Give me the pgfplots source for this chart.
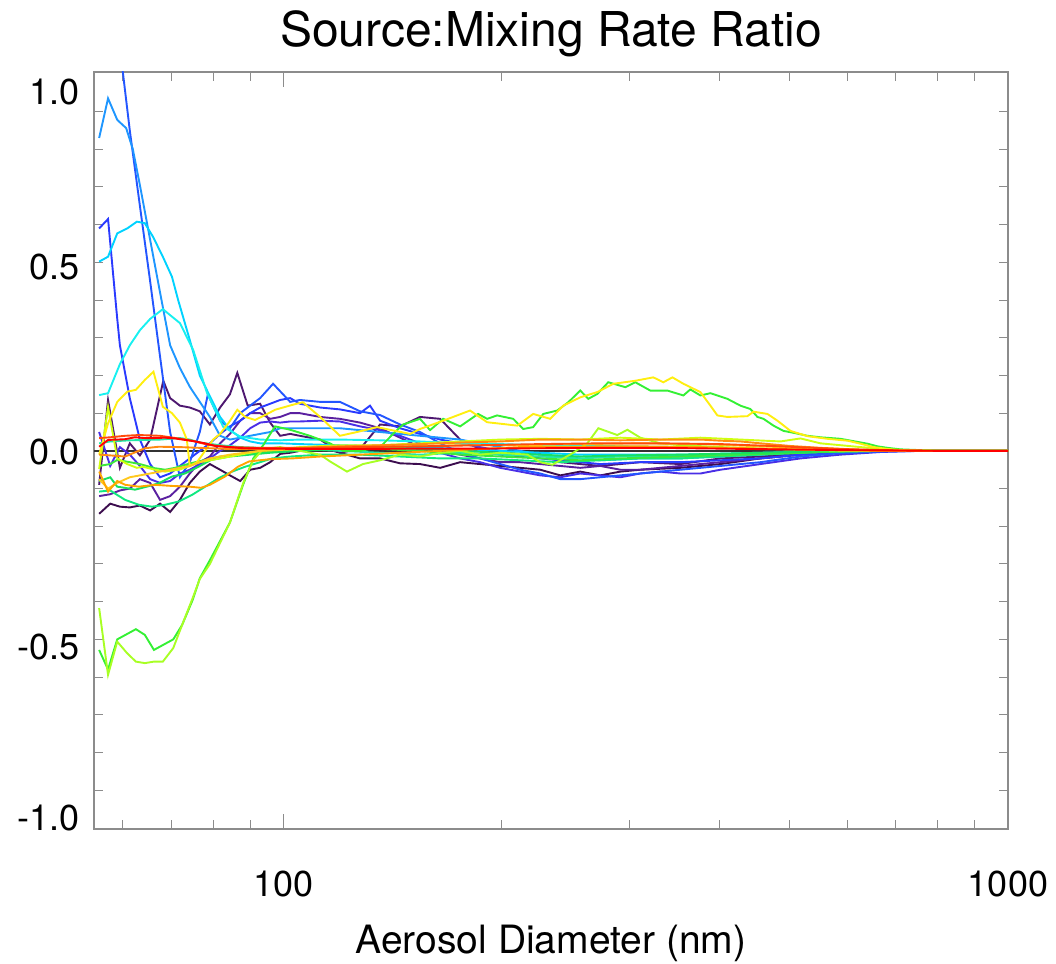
\documentclass[border=0pt]{standalone}
\usepackage{pgfplots}
\pgfplotsset{compat=1.18}
\usepackage{fontspec}
\setmainfont{TeX Gyre Heros}
\definecolor{c01}{HTML}{3C0D4E}
\definecolor{c02}{HTML}{4E1870}
\definecolor{c03}{HTML}{5A20A0}
\definecolor{c04}{HTML}{4A2EE6}
\definecolor{c05}{HTML}{2A3AFF}
\definecolor{c06}{HTML}{2356FF}
\definecolor{c07}{HTML}{1E96FF}
\definecolor{c08}{HTML}{00D2FF}
\definecolor{c09}{HTML}{18F0F0}
\definecolor{c10}{HTML}{20E8A8}
\definecolor{c11}{HTML}{10E880}
\definecolor{c12}{HTML}{3CE83C}
\definecolor{c13}{HTML}{18E060}
\definecolor{c14}{HTML}{34F034}
\definecolor{c15}{HTML}{A8FF24}
\definecolor{c16}{HTML}{D0FF10}
\definecolor{c17}{HTML}{FFEE10}
\definecolor{c18}{HTML}{FFC81E}
\definecolor{c19}{HTML}{FFA500}
\definecolor{c20}{HTML}{FF8A10}
\definecolor{c21}{HTML}{FF4A0A}
\definecolor{c22}{HTML}{FF0000}
\begin{document}
\begin{tikzpicture}
\useasboundingbox (-47pt,-67.5pt) rectangle (481pt,414.5pt);
\begin{axis}[
  at={(0pt,0pt)}, anchor=south west,
  scale only axis, width=457pt, height=378.5pt,
  xmode=log, xmin=54.8, xmax=1000, ymin=-1.003, ymax=1.005,
  xtick={60,70,80,90,200,300,400,500,600,700,800,900}, xticklabel=\empty,
  extra x ticks={100,1000}, extra x tick labels={},
  extra x tick style={major tick length=7.5pt},
  ytick={-0.9,-0.8,-0.7,-0.6,-0.5,-0.4,-0.3,-0.2,-0.1,0,0.1,0.2,0.3,0.4,0.5,0.6,0.7,0.8,0.9},
  yticklabel=\empty,
  major tick length=4.4pt,
  axis line style={draw=black!45, line width=0.6pt},
  every tick/.style={draw=black!45, line width=0.5pt},
  every axis plot/.append style={line width=0.95pt},
  clip=true,
]
\addplot[color=black!80, line width=1pt] coordinates {(54.8,0) (1000,0)};
% dark purple 1
\addplot[c01] coordinates {(55.7,-0.167)(57.7,-0.14)(59.5,-0.148)(61.4,-0.15)(63.4,-0.145)(65.5,-0.158)(67.6,-0.14)(69.8,-0.162)(72.0,-0.13)(74.3,-0.085)(76.7,-0.055)(79.2,-0.035)(81.8,-0.05)(84.4,-0.065)(87.2,-0.08)(90.0,-0.05)(92.9,-0.045)(95.9,-0.03)(99.0,-0.008)(102.2,-0.005)(105.4,0.0)(112.4,0.01)(119.7,-0.005)(127.6,-0.02)(136.0,-0.02)(144.9,-0.033)(154.4,-0.035)(164.6,-0.045)(175.4,-0.03)(186.9,-0.035)(199.2,-0.04)(212.3,-0.045)(226.2,-0.05)(241.1,-0.065)(256.9,-0.055)(273.8,-0.065)(291.8,-0.055)(310.9,-0.05)(353.1,-0.045)(401.0,-0.035)(455.4,-0.02)(517.2,-0.01)(587.3,-0.004)(667.0,0)(1000,0)};
% dark purple 2
\addplot[c02] coordinates {(55.7,-0.09)(57.3,0.135)(59.5,-0.045)(61.4,0.02)(63.4,-0.012)(65.5,0.03)(68.3,0.186)(69.8,0.14)(72.0,0.12)(74.3,0.115)(76.7,0.105)(79.2,0.07)(81.8,0.115)(84.4,0.15)(86.4,0.207)(89.3,0.12)(92.9,0.125)(95.9,0.075)(99.0,0.04)(102.2,0.045)(105.4,0.04)(112.4,0.03)(119.7,-0.005)(127.6,0.005)(136.0,0.07)(144.9,0.065)(154.4,0.09)(164.6,0.085)(175.4,0.03)(186.9,0.005)(199.2,-0.01)(212.3,-0.015)(226.2,-0.005)(241.1,-0.03)(256.9,-0.035)(273.8,-0.04)(310.9,-0.03)(353.1,-0.035)(401.0,-0.02)(455.4,-0.015)(517.2,-0.008)(587.3,-0.003)(667.0,0)(1000,0)};
% purple
\addplot[c03] coordinates {(55.7,-0.12)(57.7,-0.115)(59.5,-0.105)(61.4,-0.1)(63.4,-0.075)(65.5,-0.085)(67.6,-0.13)(69.8,-0.12)(72.0,-0.095)(74.3,-0.06)(76.7,-0.03)(79.2,-0.015)(81.8,0.02)(84.4,0.045)(87.2,0.08)(90.0,0.1)(92.9,0.1)(95.9,0.085)(99.0,0.09)(102.2,0.1)(105.4,0.1)(112.4,0.09)(119.7,0.085)(127.6,0.075)(136.0,0.06)(144.9,0.035)(154.4,0.01)(164.6,0.0)(175.4,-0.01)(186.9,-0.02)(199.2,-0.03)(212.3,-0.03)(226.2,-0.035)(241.1,-0.04)(256.9,-0.045)(273.8,-0.04)(291.8,-0.05)(310.9,-0.05)(353.1,-0.04)(401.0,-0.03)(455.4,-0.02)(517.2,-0.01)(587.3,-0.004)(667.0,0)(1000,0)};
% violet
\addplot[c04] coordinates {(55.7,0.05)(57.7,-0.04)(59.5,0.01)(61.4,-0.01)(63.4,-0.04)(65.5,-0.075)(67.6,-0.085)(69.8,-0.08)(72.0,-0.06)(74.3,-0.05)(76.7,-0.035)(79.2,-0.02)(81.8,0.0)(84.4,0.015)(87.2,0.035)(90.0,0.06)(92.9,0.075)(95.9,0.078)(99.0,0.075)(102.2,0.078)(105.4,0.078)(112.4,0.08)(119.7,0.078)(127.6,0.065)(136.0,0.055)(144.9,0.04)(154.4,0.02)(164.6,-0.005)(175.4,-0.02)(186.9,-0.03)(199.2,-0.045)(212.3,-0.055)(226.2,-0.065)(241.1,-0.07)(256.9,-0.06)(273.8,-0.065)(291.8,-0.07)(310.9,-0.06)(331.3,-0.055)(353.1,-0.06)(376.3,-0.06)(401.0,-0.05)(455.4,-0.035)(517.2,-0.02)(587.3,-0.01)(667.0,-0.003)(757.5,0)(1000,0)};
% blue (0.6 start)
\addplot[c05] coordinates {(55.7,0.59)(57.3,0.615)(59.0,0.35)(59.5,0.28)(61.4,0.14)(63.4,0.03)(65.5,-0.035)(67.6,-0.07)(69.8,-0.06)(72.0,-0.04)(74.3,-0.02)(76.7,0.0)(79.2,0.02)(81.8,0.045)(84.4,0.065)(87.2,0.08)(90.0,0.1)(92.9,0.115)(95.9,0.125)(99.0,0.135)(102.2,0.14)(105.4,0.125)(112.4,0.115)(119.7,0.11)(127.6,0.1)(131.7,0.12)(136.0,0.08)(144.9,0.06)(154.4,0.045)(164.6,0.03)(175.4,0.02)(186.9,0.01)(199.2,0.0)(212.3,-0.01)(226.2,-0.02)(241.1,-0.025)(256.9,-0.03)(273.8,-0.035)(310.9,-0.03)(353.1,-0.03)(401.0,-0.025)(455.4,-0.02)(517.2,-0.01)(587.3,-0.005)(667.0,0)(1000,0)};
% royal blue (off top)
\addplot[c06] coordinates {(55.7,1.6)(57.7,1.3)(59.5,1.07)(61.4,0.85)(63.4,0.65)(65.5,0.45)(67.6,0.25)(69.8,0.05)(72.0,-0.07)(74.3,-0.03)(76.7,0.05)(78.7,0.15)(81.8,0.08)(84.4,0.06)(87.2,0.1)(90.0,0.12)(92.9,0.14)(96.8,0.178)(102.2,0.13)(105.4,0.135)(112.4,0.13)(119.7,0.13)(127.6,0.105)(136.0,0.095)(144.9,0.07)(154.4,0.05)(164.6,0.02)(175.4,-0.005)(186.9,-0.02)(199.2,-0.035)(212.3,-0.05)(226.2,-0.06)(241.1,-0.075)(256.9,-0.075)(273.8,-0.07)(291.8,-0.065)(310.9,-0.06)(353.1,-0.05)(401.0,-0.04)(455.4,-0.03)(517.2,-0.015)(587.3,-0.006)(667.0,-0.002)(757.5,0)(1000,0)};
% dodger blue (0.94 peak)
\addplot[c07] coordinates {(55.7,0.83)(57.3,0.935)(59.0,0.878)(60.7,0.856)(62.0,0.80)(63.4,0.705)(65.5,0.56)(67.6,0.42)(69.8,0.28)(72.0,0.22)(74.3,0.17)(76.7,0.13)(79.2,0.09)(81.8,0.04)(84.4,0.03)(87.2,0.035)(90.0,0.04)(92.9,0.045)(95.9,0.05)(99.0,0.06)(105.4,0.06)(112.4,0.06)(119.7,0.06)(127.6,0.055)(136.0,0.05)(144.9,0.045)(154.4,0.04)(164.6,0.035)(175.4,0.03)(186.9,0.02)(199.2,0.01)(212.3,0.0)(226.2,-0.01)(241.1,-0.015)(256.9,-0.02)(273.8,-0.025)(310.9,-0.02)(353.1,-0.02)(401.0,-0.015)(455.4,-0.01)(517.2,-0.005)(587.3,0)(1000,0)};
% sky blue (0.61 peak)
\addplot[c08] coordinates {(55.7,0.502)(57.3,0.515)(59.0,0.577)(60.9,0.59)(62.8,0.608)(64.4,0.604)(66.1,0.568)(68.2,0.515)(70.2,0.462)(71.6,0.40)(74.3,0.294)(76.7,0.2)(78.5,0.16)(81.8,0.09)(84.4,0.056)(87.2,0.035)(90.0,0.025)(92.9,0.02)(99.0,0.02)(105.4,0.018)(119.7,0.015)(136.0,0.012)(154.4,0.01)(175.4,0.005)(199.2,0.0)(226.2,-0.005)(256.9,-0.01)(291.8,-0.01)(353.1,-0.01)(455.4,-0.005)(587.3,0)(1000,0)};
% cyan (0.37 peak)
\addplot[c09] coordinates {(55.7,0.148)(57.3,0.153)(59.5,0.23)(61.4,0.28)(63.4,0.32)(65.5,0.35)(68.2,0.376)(69.8,0.36)(72.0,0.339)(75.1,0.268)(78.5,0.153)(82.6,0.064)(87.2,0.038)(92.9,0.03)(99.0,0.028)(105.4,0.03)(119.7,0.03)(136.0,0.028)(154.4,0.025)(175.4,0.02)(199.2,0.018)(226.2,0.015)(256.9,0.015)(291.8,0.012)(353.1,0.01)(455.4,0.005)(587.3,0.002)(667.0,0)(1000,0)};
% aquamarine
\addplot[c10] coordinates {(55.7,0.02)(57.7,0.025)(61.4,0.028)(67.6,0.03)(72.0,0.034)(74.3,0.03)(76.7,0.022)(81.8,0.015)(87.2,0.01)(92.9,0.008)(105.4,0.005)(119.7,0.0)(136.0,-0.005)(154.4,-0.01)(175.4,-0.005)(199.2,-0.01)(226.2,-0.015)(256.9,-0.02)(291.8,-0.015)(353.1,-0.012)(455.4,-0.006)(587.3,-0.002)(667.0,0)(1000,0)};
% spring green (lowest)
\addplot[c11] coordinates {(55.7,-0.108)(57.7,-0.105)(59.0,-0.117)(60.5,-0.13)(63.2,-0.143)(65.9,-0.148)(68.7,-0.143)(71.8,-0.134)(74.8,-0.117)(78.0,-0.095)(81.5,-0.072)(85.0,-0.055)(88.6,-0.042)(92.9,-0.03)(96.5,-0.02)(102.2,-0.015)(112.4,-0.01)(127.6,-0.01)(144.9,-0.015)(164.6,-0.02)(186.9,-0.02)(212.3,-0.025)(241.1,-0.03)(273.8,-0.025)(310.9,-0.02)(353.1,-0.02)(401.0,-0.015)(455.4,-0.01)(517.2,-0.005)(587.3,0)(1000,0)};
% green 1
\addplot[c12] coordinates {(55.7,-0.04)(57.7,-0.035)(59.0,-0.024)(61.4,-0.03)(63.4,-0.035)(66.5,-0.046)(68.7,-0.05)(70.9,-0.045)(73.2,-0.037)(75.6,-0.03)(78.0,-0.024)(81.8,-0.015)(87.2,-0.01)(92.9,-0.005)(99.0,0.0)(105.4,0.005)(119.7,0.008)(136.0,0.005)(154.4,0.0)(175.4,-0.01)(199.2,-0.015)(226.2,-0.02)(256.9,-0.025)(291.8,-0.02)(353.1,-0.015)(455.4,-0.008)(587.3,-0.002)(667.0,0)(1000,0)};
% green 2
\addplot[c13] coordinates {(55.7,-0.08)(57.7,-0.07)(59.0,-0.095)(60.5,-0.098)(62.4,-0.103)(64.8,-0.095)(67.3,-0.086)(70.2,-0.068)(73.2,-0.06)(76.4,-0.042)(79.5,-0.024)(84.4,-0.015)(90.0,-0.01)(95.9,-0.005)(105.4,0.0)(119.7,0.005)(136.0,0.01)(154.4,0.005)(175.4,0.0)(199.2,-0.005)(226.2,-0.01)(256.9,-0.015)(291.8,-0.012)(353.1,-0.01)(455.4,-0.005)(587.3,0)(1000,0)};
% green big negative then hump
\addplot[c14] coordinates {(55.7,-0.528)(57.3,-0.58)(59.0,-0.5)(62.6,-0.473)(64.4,-0.488)(66.3,-0.528)(70.5,-0.5)(72.5,-0.462)(75.0,-0.395)(76.7,-0.338)(79.2,-0.29)(84.4,-0.19)(88.0,-0.09)(90.9,-0.02)(93.8,0.015)(97.4,0.065)(102.2,0.056)(108.8,0.04)(116.0,0.02)(120.9,0.0)(127.6,0.0)(136.0,0.01)(142.6,0.05)(146.3,0.07)(154.4,0.085)(159.4,0.055)(166.2,0.085)(175.4,0.065)(185.7,0.098)(191.1,0.085)(197.3,0.094)(207.6,0.085)(214.3,0.058)(221.2,0.063)(228.4,0.098)(238.8,0.107)(247.3,0.129)(256.9,0.16)(263.5,0.138)(271.2,0.151)(280.8,0.182)(296.5,0.169)(306.0,0.182)(320.9,0.16)(338.8,0.16)(356.5,0.147)(364.5,0.163)(376.3,0.147)(388.5,0.153)(410.0,0.138)(427.3,0.12)(441.1,0.111)(451.1,0.09)(459.8,0.085)(474.6,0.067)(489.9,0.053)(505.8,0.048)(528.8,0.04)(551.1,0.036)(587.3,0.032)(640.0,0.019)(660.7,0.012)(682.0,0.008)(710.8,0.004)(807.2,0)(1000,0)};
% yellow-green big negative
\addplot[c15] coordinates {(55.7,-0.417)(57.3,-0.594)(59.0,-0.506)(60.9,-0.537)(62.6,-0.559)(64.4,-0.563)(66.3,-0.559)(68.2,-0.559)(70.5,-0.523)(72.5,-0.462)(75.0,-0.39)(76.7,-0.34)(79.2,-0.3)(84.4,-0.19)(88.0,-0.086)(90.9,-0.025)(93.8,0.005)(99.0,0.01)(105.4,0.0)(112.4,-0.01)(116.0,-0.028)(122.4,-0.055)(128.8,-0.035)(136.0,-0.025)(144.9,-0.01)(154.4,-0.015)(164.6,-0.005)(175.4,0.0)(186.9,-0.01)(199.2,-0.005)(217.1,-0.01)(226.2,-0.03)(235.0,-0.037)(251.2,-0.005)(262.7,0.02)(272.1,0.06)(289.0,0.042)(298.4,0.056)(310.9,0.035)(331.3,0.02)(353.1,0.015)(401.0,0.01)(455.4,0.006)(517.2,0.003)(587.3,0)(1000,0)};
% yellow-green spike
\addplot[c16] coordinates {(55.7,-0.048)(57.3,0.116)(59.0,-0.02)(60.9,-0.035)(62.8,-0.045)(64.0,-0.042)(66.5,-0.05)(68.7,-0.055)(71.8,-0.05)(74.3,-0.04)(76.7,-0.03)(81.8,-0.02)(87.2,-0.01)(92.9,0.0)(99.0,0.005)(105.4,0.01)(119.7,0.015)(136.0,0.015)(154.4,0.02)(175.4,0.025)(199.2,0.03)(226.2,0.032)(256.9,0.03)(291.8,0.035)(331.3,0.03)(376.3,0.035)(427.3,0.03)(485.3,0.025)(517.2,0.033)(551.1,0.02)(625.9,0.01)(710.8,0.002)(807.2,0)(1000,0)};
% yellow
\addplot[c17] coordinates {(55.7,-0.01)(57.3,0.073)(59.0,0.13)(60.9,0.157)(62.6,0.162)(64.4,0.188)(66.2,0.21)(68.2,0.117)(70.2,0.1)(72.0,0.075)(73.6,0.03)(74.3,-0.04)(76.0,-0.03)(78.0,0.0)(80.0,0.03)(81.8,0.045)(84.1,0.075)(86.4,0.109)(88.6,0.09)(91.4,0.082)(94.4,0.095)(97.4,0.109)(102.9,0.122)(106.4,0.129)(112.4,0.09)(119.7,0.04)(126.4,0.05)(134.7,0.063)(149.6,0.045)(154.4,0.058)(166.2,0.08)(173.7,0.094)(181.0,0.107)(191.1,0.076)(210.3,0.067)(221.2,0.098)(233.5,0.085)(243.4,0.12)(256.9,0.142)(271.2,0.156)(285.4,0.178)(306.0,0.186)(324.0,0.195)(334.5,0.182)(344.3,0.195)(356.5,0.178)(376.3,0.156)(388.5,0.12)(397.2,0.094)(410.0,0.09)(436.9,0.092)(445.4,0.104)(465.6,0.098)(480.7,0.08)(501.0,0.053)(528.8,0.039)(563.5,0.032)(600.5,0.027)(625.9,0.019)(652.3,0.01)(695.2,0.003)(757.5,0)(1000,0)};
% gold
\addplot[c18] coordinates {(55.7,-0.075)(57.3,-0.1)(59.0,-0.085)(61.4,-0.07)(65.5,-0.06)(69.8,-0.05)(74.3,-0.04)(79.2,-0.02)(84.4,-0.01)(92.9,0.0)(105.4,0.005)(119.7,0.01)(144.9,0.012)(175.4,0.015)(212.3,0.015)(256.9,0.018)(310.9,0.02)(376.3,0.018)(455.4,0.012)(551.1,0.006)(667.0,0)(1000,0)};
% orange 1
\addplot[c19] coordinates {(55.7,-0.055)(57.3,-0.108)(59.0,-0.08)(60.5,-0.09)(63.2,-0.095)(66.5,-0.09)(70.2,-0.093)(74.3,-0.095)(77.0,-0.098)(79.2,-0.09)(83.1,-0.068)(86.6,-0.042)(89.7,-0.028)(95.9,-0.022)(102.9,-0.02)(112.4,-0.015)(127.6,-0.01)(144.9,-0.005)(164.6,0.0)(186.9,0.005)(212.3,0.01)(241.1,0.01)(273.8,0.012)(310.9,0.012)(376.3,0.01)(455.4,0.006)(551.1,0.003)(667.0,0)(1000,0)};
% orange 2
\addplot[c20] coordinates {(55.7,-0.01)(57.7,-0.012)(60.5,-0.015)(64.4,0.007)(67.3,0.011)(72.0,0.01)(76.7,0.008)(84.4,0.005)(92.9,0.005)(105.4,0.008)(119.7,0.012)(136.0,0.015)(154.4,0.018)(175.4,0.022)(199.2,0.025)(226.2,0.03)(256.9,0.03)(291.8,0.028)(331.3,0.03)(376.3,0.03)(401.0,0.027)(427.3,0.025)(455.4,0.02)(501.0,0.013)(551.1,0.008)(625.9,0.003)(710.8,0)(1000,0)};
% orange-red
\addplot[c21] coordinates {(55.7,0.034)(57.7,0.036)(60.5,0.04)(63.2,0.042)(67.6,0.04)(71.0,0.034)(74.8,0.027)(78.8,0.016)(84.4,0.01)(92.9,0.008)(105.4,0.008)(127.6,0.01)(154.4,0.012)(186.9,0.015)(226.2,0.018)(273.8,0.02)(331.3,0.02)(401.0,0.018)(485.3,0.012)(587.3,0.005)(710.8,0.001)(807.2,0)(1000,0)};
% red
\addplot[c22] coordinates {(55.7,0.011)(57.3,0.029)(59.0,0.03)(60.5,0.031)(62.4,0.036)(64.4,0.034)(66.5,0.034)(68.7,0.035)(70.9,0.033)(73.2,0.029)(75.6,0.025)(78.0,0.02)(80.5,0.013)(84.4,0.01)(88.0,0.007)(95.9,0.006)(105.4,0.005)(127.6,0.005)(154.4,0.006)(186.9,0.006)(226.2,0.007)(273.8,0.008)(331.3,0.008)(401.0,0.006)(485.3,0.004)(587.3,0.002)(710.8,0.001)(807.2,0)(1000,0)};
\end{axis}
\node[anchor=base, inner sep=0pt, font=\fontsize{24}{28}\selectfont] at (228.5pt,391pt) {Source:Mixing Rate Ratio};
\node[anchor=base, inner sep=0pt, font=\fontsize{19.5}{23}\selectfont] at (228.5pt,-62.5pt) {Aerosol Diameter (nm)};
\node[anchor=base, inner sep=0pt, font=\fontsize{18}{21}\selectfont] at (94.65pt,-34pt) {100};
\node[anchor=base, inner sep=0pt, font=\fontsize{18}{21}\selectfont] at (457pt,-34pt) {1000};
\node[anchor=east, inner sep=0pt, font=\fontsize{18}{21}\selectfont] at (-7pt,368.5pt) {1.0};
\node[anchor=east, inner sep=0pt, font=\fontsize{18}{21}\selectfont] at (-7pt,281pt) {0.5};
\node[anchor=east, inner sep=0pt, font=\fontsize{18}{21}\selectfont] at (-7pt,188.5pt) {0.0};
\node[anchor=east, inner sep=0pt, font=\fontsize{18}{21}\selectfont] at (-7pt,91pt) {-0.5};
\node[anchor=east, inner sep=0pt, font=\fontsize{18}{21}\selectfont] at (-7pt,5.5pt) {-1.0};
\end{tikzpicture}
\end{document}
